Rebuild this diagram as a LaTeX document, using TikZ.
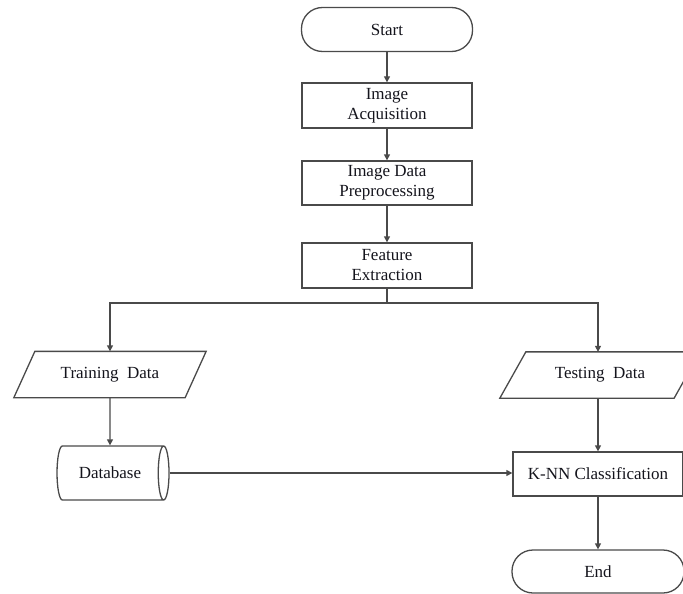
\documentclass[tikz,border=0pt]{standalone}
\usepackage{fontspec}
\setmainfont{Liberation Serif}
\usetikzlibrary{arrows.meta,shapes.geometric}
\definecolor{linec}{HTML}{4A4A4A}
\definecolor{textc}{HTML}{14141C}
\tikzset{
  base/.style={draw=linec, line width=1.3pt, align=center, text=textc,
    font=\fontsize{17}{20}\selectfont, inner sep=0pt},
  procbox/.style={base, rectangle, minimum width=170pt, minimum height=45pt},
  termbox/.style={base, rectangle, rounded corners=21pt, minimum width=171pt, minimum height=44pt},
  iobox/.style={base, draw=none, rectangle, minimum height=45pt},
  dbbox/.style={base, cylinder, shape aspect=0.9, minimum width=54pt, minimum height=112pt, shape border rotate=0},
  conn/.style={draw=linec, line width=1.3pt, -{Triangle[length=6pt,width=6pt]}},
  plain/.style={draw=linec, line width=1.3pt},
}
\begin{document}
\begin{tikzpicture}[x=1pt,y=-1pt]
\useasboundingbox (0,0) rectangle (683,594);
\node[termbox] (start) at (387,29.5) {Start};
\node[procbox] (acq) at (387,105.5) {Image\\Acquisition};
\node[procbox, minimum height=44pt] (pre) at (387,183) {Image Data\\Preprocessing};
\node[procbox] (feat) at (387,265.5) {Feature\\Extraction};
\coordinate (split) at (387,303);
\node[iobox, minimum width=170pt] (train) at (110,374.5) {Training\enspace Data};
\node[iobox, minimum width=173pt] (test) at (600,375) {Testing\enspace Data};
\node[dbbox] (db) at (110,473) {Database};
\node[procbox, minimum height=44pt] (knn) at (598,474) {K-NN Classification};
\node[termbox, minimum width=172pt, minimum height=43pt] (end) at (598,571.5) {End};

\draw[plain] ([xshift=10.5pt]train.north west) -- ([xshift=10.5pt]train.north east)
  -- ([xshift=-10.5pt]train.south east) -- ([xshift=-10.5pt]train.south west) -- cycle;
\draw[plain] ([xshift=13pt]test.north west) -- ([xshift=13pt]test.north east)
  -- ([xshift=-13pt]test.south east) -- ([xshift=-13pt]test.south west) -- cycle;

\draw[conn] (start) -- (acq);
\draw[conn] (acq) -- (pre);
\draw[conn] (pre) -- (feat);
\draw[plain] (feat) -- (split);
\draw[conn] (split) -| (train.north);
\draw[conn] (split) -| ([xshift=-2pt]test.north);
\draw[conn] (train) -- (db);
\draw[conn] ([xshift=-2pt]test.south) -- (knn);
\draw[conn] (db.east) -- (knn.west |- db.east);
\draw[conn] (knn) -- (end);
\end{tikzpicture}
\end{document}
